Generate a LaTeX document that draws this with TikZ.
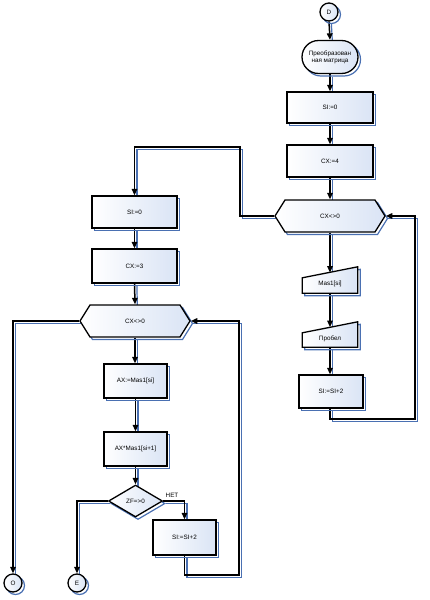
\documentclass[tikz,border=0pt]{standalone}
\usepackage{fontspec}
\setmainfont{Liberation Sans}
\usetikzlibrary{shapes.geometric,shapes.symbols,shapes.misc,arrows.meta,shadows}
\definecolor{sblue}{RGB}{74,112,178}
\definecolor{fblue}{RGB}{218,228,245}
\pgfdeclarelayer{bg}\pgfsetlayers{bg,main}
\tikzset{
  shp/.style={draw=black, line width=1.3pt, left color=white, right color=fblue, inner sep=0pt, align=center,
    drop shadow={shadow xshift=2.5pt, shadow yshift=-2.5pt, fill=none, draw=sblue, line width=1.2pt, opacity=1}},
  procbox/.style={shp, rectangle},
  hexbox/.style={shp, signal, signal to=west and east, signal pointer angle=116, minimum width=110pt, minimum height=32pt},
  conbox/.style={shp, circle, minimum size=18pt},
  ghost/.style={rectangle, inner sep=0pt, align=center},
  bshadow/.style={draw=sblue, line width=1.2pt, transform canvas={shift={(2.4pt,-2.4pt)}}},
  fline/.style={draw=black, line width=1.5pt, -{Triangle[length=6.5pt,width=5.5pt]}},
  mshape/.style={draw=black, line width=1.3pt, left color=white, right color=fblue},
  mshadow/.style={draw=sblue, line width=1.2pt, transform canvas={shift={(2.5pt,-2.5pt)}}},
}
\newcommand\flow[1]{\begin{pgfonlayer}{bg}\draw[bshadow] #1;\draw[fline] #1;\end{pgfonlayer}}
\newcommand\manin[1]{%
  \draw[mshadow] (#1.south west) -- ([yshift=-11pt]#1.north west) -- (#1.north east) -- (#1.south east) -- cycle;
  \draw[mshape] (#1.south west) -- ([yshift=-11pt]#1.north west) -- (#1.north east) -- (#1.south east) -- cycle;}
\begin{document}
\begin{tikzpicture}[x=1pt,y=-1pt,font=\fontsize{6.3}{7.3}\selectfont]
\useasboundingbox (0,0) rectangle (430,600);
% right column
\node[conbox] (D) at (329,12) {D};
\node[shp, rounded rectangle, minimum width=56pt, minimum height=33pt] (term) at (330,57) {Преобразован\\ная матрица};
\node[procbox, minimum width=86pt, minimum height=31pt] (siA0) at (330,107.5) {SI:=0};
\node[procbox, minimum width=86pt, minimum height=32pt] (cx4) at (330,161) {CX:=4};
\node[hexbox] (hexA) at (330,216) {CX<>0};
\node[ghost, minimum width=55pt, minimum height=26pt] (mas1) at (330,280) {};
\manin{mas1}
\node at ([yshift=-4pt]mas1.center) {Mas1[si]};
\node[ghost, minimum width=55pt, minimum height=25pt] (probel) at (330,334.5) {};
\manin{probel}
\node at ([yshift=-4pt]probel.center) {Пробел};
\node[procbox, minimum width=64pt, minimum height=33pt] (siA) at (331,391.5) {SI:=SI+2};
\coordinate (m1t) at (330,272.6);
\coordinate (p1t) at (330,327.1);
\coordinate (rA) at (415,419);
\coordinate (lA) at (240,147);
% left column
\node[procbox, minimum width=85pt, minimum height=32pt] (siB0) at (134.5,212) {SI:=0};
\node[procbox, minimum width=85pt, minimum height=34pt] (cx3) at (134.5,266) {CX:=3};
\node[hexbox] (hexB) at (135,321) {CX<>0};
\node[procbox, minimum width=63pt, minimum height=34pt] (ax) at (135.5,381) {AX:=Mas1[si]};
\node[procbox, minimum width=63pt, minimum height=34pt] (axm) at (135.5,449) {AX*Mas1[si+1]};
\node[shp, diamond, minimum width=54pt, minimum height=32pt] (zf) at (135.5,501) {ZF=>0};
\node[procbox, minimum width=63pt, minimum height=35pt] (siB) at (184.5,537.5) {SI:=SI+2};
\node[conbox] (O) at (13,583) {O};
\node[conbox] (E) at (77,583) {E};
\node (net) at (172,495) {НЕТ};
\coordinate (rB) at (239,575);
% connectors
\flow{(D.south) -- (term.north)}
\flow{(term.south) -- (siA0.north)}
\flow{(siA0.south) -- (cx4.north)}
\flow{(cx4.south) -- (hexA.north)}
\flow{(hexA.south) -- (m1t)}
\flow{(mas1.south) -- (p1t)}
\flow{(probel.south) -- (probel.south |- siA.north)}
\flow{(siA.south -| probel.south) |- (rA) |- (hexA.east)}
\flow{(hexA.west) -| (lA) -| (siB0.north)}
\flow{(siB0.south) -- (cx3.north)}
\flow{(cx3.south) -- (hexB.north)}
\flow{(hexB.south) -- (hexB.south |- ax.north)}
\flow{(ax.south) -- (axm.north)}
\flow{(axm.south) -- (axm.south |- zf.north)}
\flow{(zf.east) -| (siB.north)}
\flow{(zf.west) -| (E.north)}
\flow{(siB.south) |- (rB) |- (hexB.east)}
\flow{(hexB.west) -| (O.north)}
\end{tikzpicture}
\end{document}
